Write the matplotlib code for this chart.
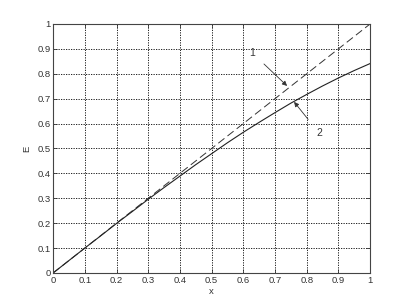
import numpy as np
import matplotlib
matplotlib.use('Agg')
import matplotlib.pyplot as plt

# values
x = [0.0, 0.05, 0.1, 0.15, 0.2, 0.25, 0.3, 0.35, 0.4, 0.45, 0.5,
     0.55, 0.6, 0.65, 0.7, 0.75, 0.8, 0.85, 0.9, 0.95, 1.0]
e1 = [0.0, 0.05, 0.1, 0.15, 0.2, 0.25, 0.3, 0.35, 0.4, 0.45, 0.5,
      0.55, 0.6, 0.65, 0.7, 0.75, 0.8, 0.85, 0.9, 0.95, 1.0]
e2 = [0.0, 0.05, 0.1, 0.149, 0.199, 0.247, 0.296, 0.343, 0.389, 0.435, 0.479,
      0.523, 0.565, 0.605, 0.644, 0.682, 0.717, 0.751, 0.783, 0.813, 0.841]
ticks = [0, 0.1, 0.2, 0.3, 0.4, 0.5, 0.6, 0.7, 0.8, 0.9, 1]
ticklabels = ['0', '0.1', '0.2', '0.3', '0.4', '0.5', '0.6', '0.7', '0.8', '0.9', '1']

plt.rcParams['font.family'] = ['Liberation Sans', 'DejaVu Sans']
fig = plt.figure(figsize=(4.09, 3.07), dpi=100)
ax = fig.add_axes([0.130, 0.111, 0.775, 0.811])

ax.plot(x, e1, color='#333333', lw=0.7, dashes=(8, 4))
ax.plot(x, e2, color='#222222', lw=0.8)

ax.set_xlim(0, 1)
ax.set_ylim(0, 1)
ax.set_xticks(ticks)
ax.set_yticks(ticks)
ax.set_xticklabels(ticklabels)
ax.set_yticklabels(ticklabels)
ax.tick_params(direction='in', length=3, width=0.6, labelsize=6.8,
               colors='#333333', top=True, right=True, pad=2)
ax.grid(True, color='black', linestyle=(0, (1.5, 1.5)), linewidth=0.6)
for s in ax.spines.values():
    s.set_linewidth(0.8)
    s.set_color('#444444')

ax.set_xlabel('x', fontsize=6.8, color='#333333', labelpad=2)
ax.set_ylabel('E', fontsize=6.8, color='#333333', labelpad=4)

ax.annotate('1', xy=(0.738, 0.751), xytext=(0.628, 0.884), fontsize=7.5,
            color='#333333', ha='center', va='center',
            arrowprops=dict(arrowstyle='-|>', color='#333333', lw=0.6,
                            mutation_scale=7, shrinkA=6, shrinkB=0))
ax.annotate('2', xy=(0.760, 0.687), xytext=(0.839, 0.562), fontsize=7.5,
            color='#333333', ha='center', va='center',
            arrowprops=dict(arrowstyle='-|>', color='#333333', lw=0.6,
                            mutation_scale=7, shrinkA=6, shrinkB=0))

fig.savefig('out.png', dpi=100)
